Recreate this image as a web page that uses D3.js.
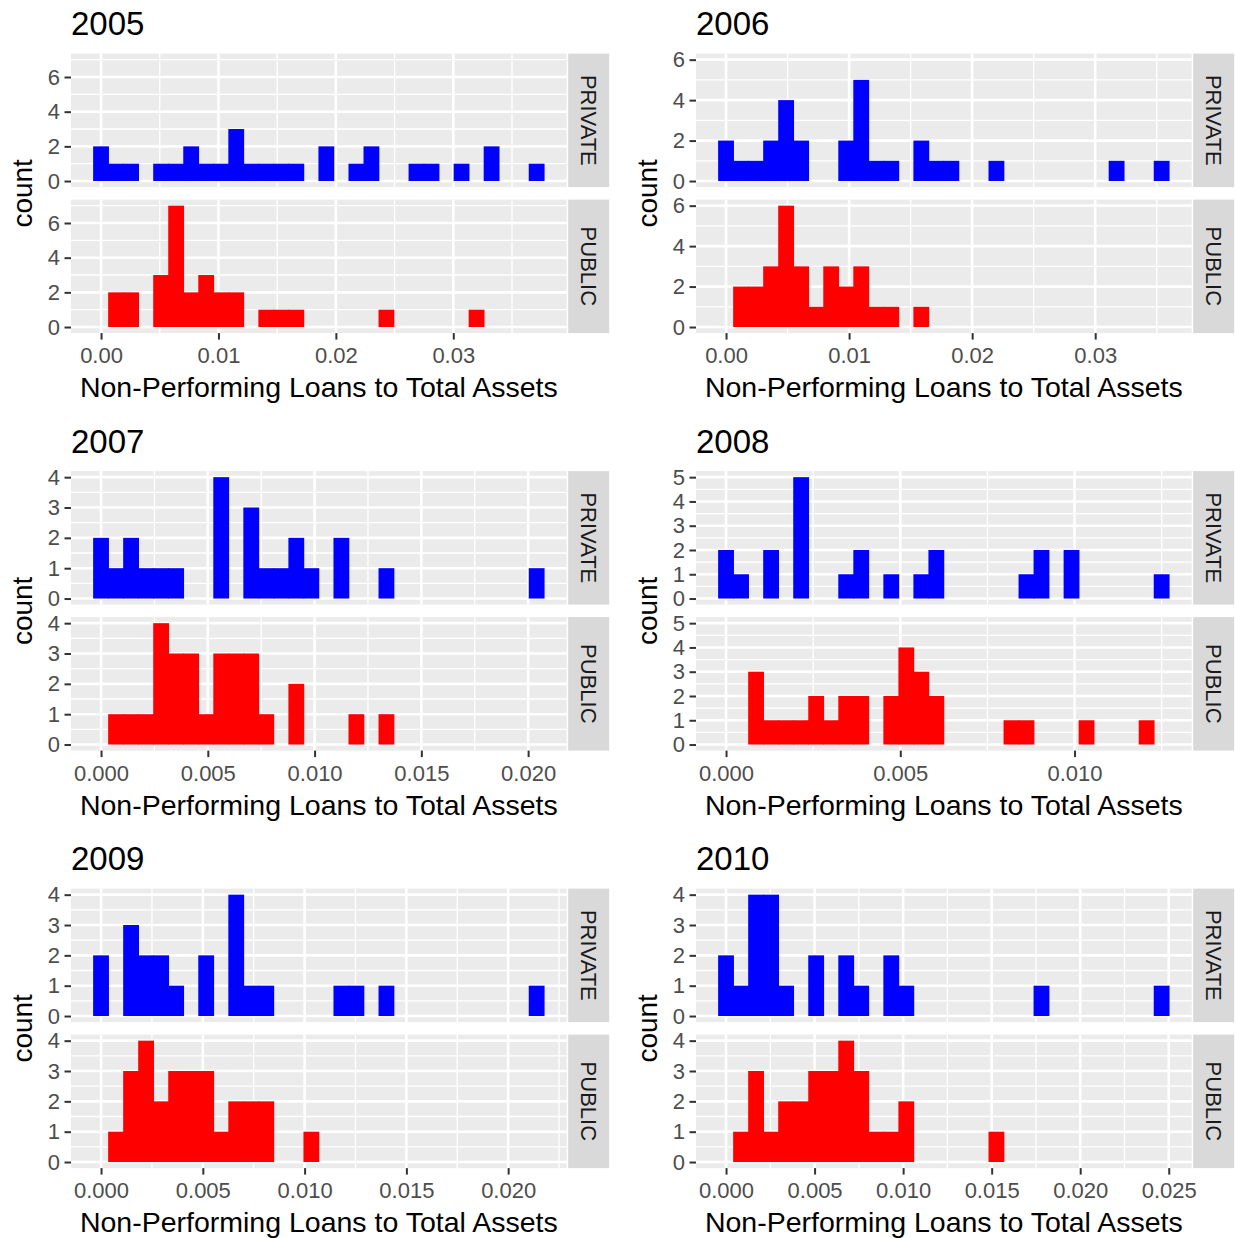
<!DOCTYPE html>
<html>
<head>
<meta charset="utf-8">
<script src="https://cdn.jsdelivr.net/npm/d3@7"></script>
<style>
  body { margin: 0; background: #fff; }
  text { font-family: "Liberation Sans", Arial, Helvetica, sans-serif; }
</style>
</head>
<body>
<script>

// ================================ data
var years = ["2005", "2006", "2007", "2008", "2009", "2010"];
var groups = ["PRIVATE", "PUBLIC"];

// smallest / largest observed ratio per year (30 bins between them)
var minValues = [0, 0, 0, 0, 0, 0];
var maxValues = [0.0371, 0.0354, 0.0204, 0.0125, 0.0214, 0.0246];

// bin counts, 30 bins per year
var privateCounts = [
  [2,1,1,0,1,1,2,1,1,3,1,1,1,1,0,2,0,1,2,0,0,1,1,0,1,0,2,0,0,1],
  [2,1,1,2,4,2,0,0,2,5,1,1,0,2,1,1,0,0,1,0,0,0,0,0,0,0,1,0,0,1],
  [2,1,2,1,1,1,0,0,4,0,3,1,1,2,1,0,2,0,0,1,0,0,0,0,0,0,0,0,0,1],
  [2,1,0,2,0,5,0,0,1,2,0,1,0,1,2,0,0,0,0,0,1,2,0,2,0,0,0,0,0,1],
  [2,0,3,2,2,1,0,2,0,4,1,1,0,0,0,0,1,1,0,1,0,0,0,0,0,0,0,0,0,1],
  [2,1,4,4,1,0,2,0,2,1,0,2,1,0,0,0,0,0,0,0,0,1,0,0,0,0,0,0,0,1]
];
var publicCounts = [
  [0,2,2,0,3,7,2,3,2,2,0,1,1,1,0,0,0,0,0,1,0,0,0,0,0,1,0,0,0,0],
  [0,2,2,3,6,3,1,3,2,3,1,1,0,1,0,0,0,0,0,0,0,0,0,0,0,0,0,0,0,0],
  [0,1,1,1,4,3,3,1,3,3,3,1,0,2,0,0,0,1,0,1,0,0,0,0,0,0,0,0,0,0],
  [0,0,3,1,1,1,2,1,2,2,0,2,4,3,2,0,0,0,0,1,1,0,0,0,1,0,0,0,1,0],
  [0,1,3,4,2,3,3,3,1,2,2,2,0,0,1,0,0,0,0,0,0,0,0,0,0,0,0,0,0,0],
  [0,1,3,1,2,2,3,3,4,3,1,1,2,0,0,0,0,0,1,0,0,0,0,0,0,0,0,0,0,0]
];

// tick values and labels
var xTicks = [
  [0, 0.01, 0.02, 0.03],
  [0, 0.01, 0.02, 0.03],
  [0, 0.005, 0.01, 0.015, 0.02],
  [0, 0.005, 0.01],
  [0, 0.005, 0.01, 0.015, 0.02],
  [0, 0.005, 0.01, 0.015, 0.02, 0.025]
];
var xTickLabels = [
  ["0.00", "0.01", "0.02", "0.03"],
  ["0.00", "0.01", "0.02", "0.03"],
  ["0.000", "0.005", "0.010", "0.015", "0.020"],
  ["0.000", "0.005", "0.010"],
  ["0.000", "0.005", "0.010", "0.015", "0.020"],
  ["0.000", "0.005", "0.010", "0.015", "0.020", "0.025"]
];
var yTicks = [
  [0, 2, 4, 6],
  [0, 2, 4, 6],
  [0, 1, 2, 3, 4],
  [0, 1, 2, 3, 4, 5],
  [0, 1, 2, 3, 4],
  [0, 1, 2, 3, 4]
];

var xTitle = "Non-Performing Loans to Total Assets";
var yTitle = "count";

// ================================ layout
var svgWidth = 1235;
var svgHeight = 1238;
var cellW = 625, cellH = 417.5;
var panelLeft = 71, panelTop = 53.6;
var panelW = 495.7, stripW = 41;
var facetH = 133.5, facetGap = 12.5;
var fills = { PRIVATE: "#0000FF", PUBLIC: "#FF0000" };

var svg = d3.select("body")
  .append("svg")
  .attr("width", svgWidth)
  .attr("height", svgHeight);

// minor breaks half way between the majors, kept inside the domain
function minorBreaks(ticks, domain) {
  var step = ticks[1] - ticks[0];
  var out = [];
  for (var k = -1; k < ticks.length; k++) {
    var v = ticks[0] + (k + 0.5) * step;
    if (v >= domain[0] && v <= domain[1]) out.push(v);
  }
  return out;
}

years.forEach(function (year, i) {
  var col = i % 2, row = Math.floor(i / 2);
  var g = svg.append("g")
    .attr("transform", `translate(${col * cellW}, ${row * cellH})`);

  // bins: 30 bins, first centred on min, last on max
  var w = (maxValues[i] - minValues[i]) / 29;
  var lo = minValues[i] - w / 2, hi = maxValues[i] + w / 2;
  var pad = (hi - lo) * 0.05;
  var xScale = d3.scaleLinear()
    .domain([lo - pad, hi + pad])
    .range([panelLeft, panelLeft + panelW]);
  var xMinor = minorBreaks(xTicks[i], xScale.domain());

  var counts = { PRIVATE: privateCounts[i], PUBLIC: publicCounts[i] };
  var yMax = d3.max(privateCounts[i].concat(publicCounts[i]));

  groups.forEach(function (grp, j) {
    var top = panelTop + j * (facetH + facetGap);
    var yScale = d3.scaleLinear()
      .domain([-yMax * 0.05, yMax * 1.05])
      .range([top + facetH, top]);
    var yMinor = minorBreaks(yTicks[i], yScale.domain());

    // panel background
    g.append("rect")
      .attr("x", panelLeft).attr("y", top)
      .attr("width", panelW).attr("height", facetH)
      .attr("fill", "#EBEBEB");

    // grid lines
    g.selectAll(null).data(yMinor).enter().append("line")
      .attr("x1", panelLeft).attr("x2", panelLeft + panelW)
      .attr("y1", d => yScale(d)).attr("y2", d => yScale(d))
      .attr("stroke", "#fff").attr("stroke-width", 1.3);
    g.selectAll(null).data(xMinor).enter().append("line")
      .attr("y1", top).attr("y2", top + facetH)
      .attr("x1", d => xScale(d)).attr("x2", d => xScale(d))
      .attr("stroke", "#fff").attr("stroke-width", 1.3);
    g.selectAll(null).data(yTicks[i]).enter().append("line")
      .attr("x1", panelLeft).attr("x2", panelLeft + panelW)
      .attr("y1", d => yScale(d)).attr("y2", d => yScale(d))
      .attr("stroke", "#fff").attr("stroke-width", 2.6);
    g.selectAll(null).data(xTicks[i]).enter().append("line")
      .attr("y1", top).attr("y2", top + facetH)
      .attr("x1", d => xScale(d)).attr("x2", d => xScale(d))
      .attr("stroke", "#fff").attr("stroke-width", 2.6);

    // bars (adjacent bins drawn with a hair of overlap so no seams show)
    var bins = counts[grp].map(function (c, k) {
      return { x0: lo + k * w, x1: lo + (k + 1) * w, count: c };
    });
    g.selectAll(null)
      .data(bins.filter(d => d.count > 0))
      .enter()
      .append("rect")
      .attr("x", d => xScale(d.x0) - 0.4)
      .attr("width", d => xScale(d.x1) - xScale(d.x0) + 0.8)
      .attr("y", d => yScale(d.count))
      .attr("height", d => yScale(0) - yScale(d.count))
      .attr("fill", fills[grp]);

    // y axis
    var yAxis = g.append("g")
      .attr("transform", `translate(${panelLeft}, 0)`)
      .call(d3.axisLeft(yScale)
        .tickValues(yTicks[i])
        .tickFormat(d3.format("d"))
        .tickSize(6.5)
        .tickPadding(4.5));
    yAxis.select(".domain").remove();
    yAxis.selectAll("line").attr("stroke", "#333333").attr("stroke-width", 2);
    yAxis.selectAll("text")
      .attr("fill", "#4D4D4D")
      .style("font-size", "22px");

    // strip
    g.append("rect")
      .attr("x", panelLeft + panelW + 1.5).attr("y", top)
      .attr("width", stripW).attr("height", facetH)
      .attr("fill", "#D9D9D9");
    g.append("text")
      .attr("transform", `translate(${panelLeft + panelW + 1.5 + stripW / 2}, ${top + facetH / 2}) rotate(90)`)
      .attr("text-anchor", "middle")
      .attr("dy", "0.35em")
      .attr("fill", "#1A1A1A")
      .style("font-size", "22px")
      .text(grp);
  });

  // x axis
  var bottom = panelTop + 2 * facetH + facetGap;
  var xAxis = g.append("g")
    .attr("transform", `translate(0, ${bottom})`)
    .call(d3.axisBottom(xScale)
      .tickValues(xTicks[i])
      .tickFormat((d, k) => xTickLabels[i][k])
      .tickSize(6.5)
      .tickPadding(8));
  xAxis.select(".domain").remove();
  xAxis.selectAll("line").attr("stroke", "#333333").attr("stroke-width", 2);
  xAxis.selectAll("text")
    .attr("fill", "#4D4D4D")
    .style("font-size", "22px");

  // titles
  g.append("text")
    .attr("x", panelLeft).attr("y", 35)
    .attr("fill", "#000")
    .style("font-size", "33px")
    .text(year);

  g.append("text")
    .attr("x", panelLeft + panelW / 2).attr("y", 397)
    .attr("text-anchor", "middle")
    .attr("fill", "#000")
    .style("font-size", "28.5px")
    .text(xTitle);

  g.append("text")
    .attr("transform", `translate(32, ${(panelTop + bottom) / 2}) rotate(-90)`)
    .attr("text-anchor", "middle")
    .attr("fill", "#000")
    .style("font-size", "28px")
    .text(yTitle);
});

</script>
</body>
</html>
